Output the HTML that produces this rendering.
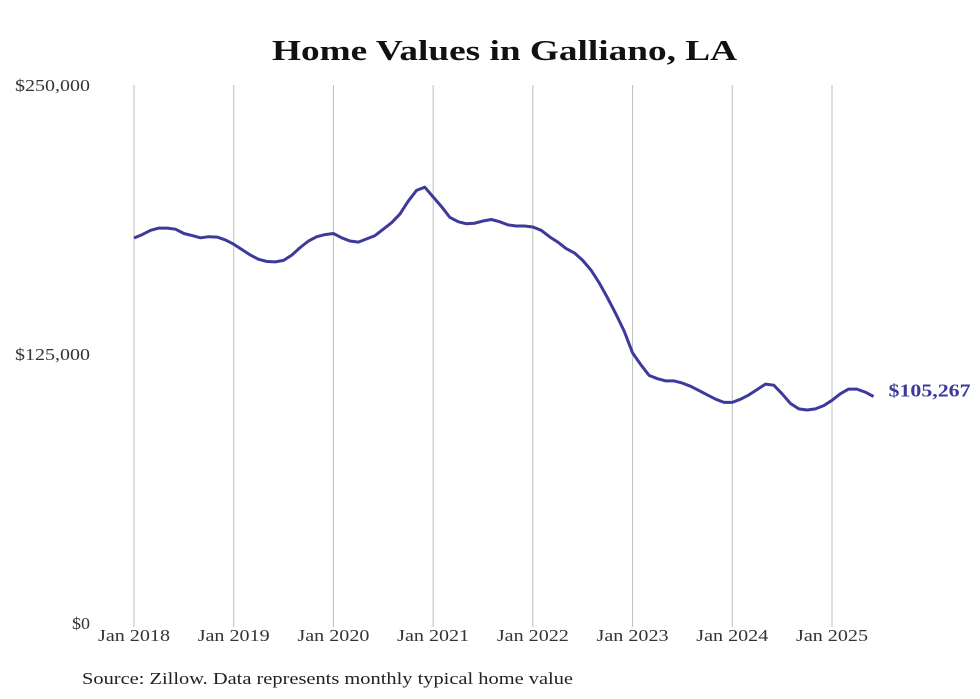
<!DOCTYPE html>
<html><head><meta charset="utf-8"><style>
html,body{margin:0;padding:0;background:#fff;width:980px;height:699px;overflow:hidden}
svg text{font-family:"Liberation Serif","DejaVu Serif",serif}
</style></head><body>
<svg id="chart" width="980" height="699" xmlns="http://www.w3.org/2000/svg">
<text x="272" y="60" textLength="465" lengthAdjust="spacingAndGlyphs" font-size="29" font-weight="bold" fill="#111">Home Values in Galliano, LA</text>
<g id="grid"></g><g id="yaxis"></g><g id="xaxis"></g><g id="series"></g>
<text x="82" y="684" textLength="491" lengthAdjust="spacingAndGlyphs" font-size="17" fill="#222">Source: Zillow. Data represents monthly typical home value</text>
</svg>
<script>
const yearLabels=["Jan 2018","Jan 2019","Jan 2020","Jan 2021","Jan 2022","Jan 2023","Jan 2024","Jan 2025"];
const yTicks=[0,125000,250000];
const yTickLabels=["$0","$125,000","$250,000"];
const yLabelWidths=[18,75,75];
const values2018=[178.9,180.5,182.5,183.5,183.5,183,181,180,179,179.5,179.3,178];
const values2019=[176,173.5,171,169,168,167.8,168.5,171,174.5,177.5,179.5,180.5];
const values2020=[181,179,177.5,177,178.5,180,183,186,190,196,201,202.5];
const values2021=[198,193.5,188.5,186.5,185.5,185.8,186.8,187.5,186.5,185,184.5,184.5];
const values2022=[184,182.5,179.5,177,174,172,168.5,164,158,151,143.5,135.5];
const values2023=[125.5,120,115,113.5,112.5,112.5,111.5,110,108,106,104,102.5];
const values2024=[102.5,104,106,108.5,111,110.5,106.5,102,99.5,99,99.5,101];
const values2025=[103.5,106.5,108.7,108.7,107.3,105.267];
const lastLabel="$105,267";
const values=[].concat(values2018,values2019,values2020,values2021,values2022,values2023,values2024,values2025).map(v=>v*1000);
const NS="http://www.w3.org/2000/svg";
const x0=134,monthW=(832-134)/84,yBase=623,yTop=85,yMax=250000;
const xs=i=>x0+i*monthW;
const ys=v=>yBase-(v/yMax)*(yBase-yTop);
function mk(t,a,p){const e=document.createElementNS(NS,t);for(const k in a)e.setAttribute(k,a[k]);p.appendChild(e);return e;}
const grid=document.getElementById('grid'),ya=document.getElementById('yaxis'),xa=document.getElementById('xaxis'),se=document.getElementById('series');
yearLabels.forEach((l,i)=>{
  const x=xs(i*12);
  const g=mk('line',{x1:x,x2:x,y1:yTop,y2:yBase+4,stroke:'#bdbdbd','stroke-width':1},grid);
  
  
  const t=mk('text',{x:x,y:641,'text-anchor':'middle','font-size':17,fill:'#333',textLength:72,lengthAdjust:'spacingAndGlyphs'},xa);
  t.textContent=l;
  
  
});
yTicks.forEach((v,i)=>{
  const t=mk('text',{x:90,y:ys(v)+6,'text-anchor':'end','font-size':17,fill:'#333',textLength:yLabelWidths[i],lengthAdjust:'spacingAndGlyphs'},ya);
  t.textContent=yTickLabels[i];
  
  
});
const d=values.map((v,i)=>(i?'L':'M')+xs(i).toFixed(1)+','+ys(v).toFixed(1)).join(' ');
const p=mk('path',{d:d,fill:'none',stroke:'#3d3a9b','stroke-width':3,'stroke-linejoin':'round'},se);


const li=values.length-1;
const lt=mk('text',{x:xs(li)+15,y:ys(values[li])+0,'font-size':18,'font-weight':'bold',fill:'#3d3a9b',textLength:82,lengthAdjust:'spacingAndGlyphs'},se);
lt.textContent=lastLabel;


</script>
</body></html>
